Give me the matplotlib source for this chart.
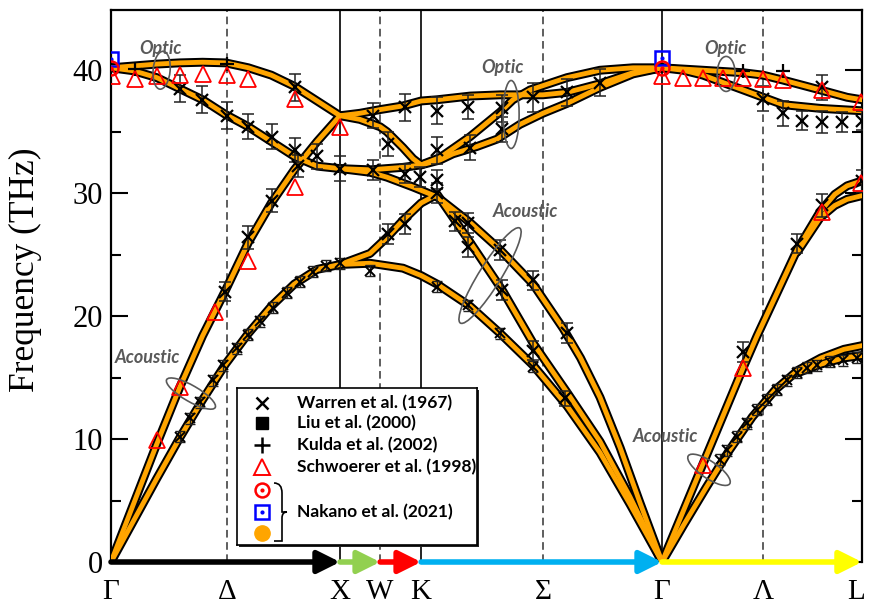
import numpy as np
import matplotlib
matplotlib.use("Agg")
import matplotlib.pyplot as plt
import matplotlib.transforms as mtransforms
from matplotlib.patches import Ellipse, Rectangle, PathPatch
from matplotlib.path import Path

# path coordinate along G-X-W-K-G-L (G-X = 1)
sym_pos = [0.0, 0.507, 1.0, 1.175, 1.354, 1.886, 2.406, 2.847, 3.279]
sym_labels = ['Γ', 'Δ', 'X', 'W', 'K', 'Σ', 'Γ', 'Λ', 'L']
solid_pos = [1.0, 1.354, 2.406]
dashed_pos = [0.507, 1.175, 1.886, 2.847]

# calculated dispersion branches, (q, THz)
gx_lo = [(0, 40.2), (0.1, 40.35), (0.2, 40.5), (0.3, 40.6), (0.4, 40.65), (0.5, 40.6),
         (0.6, 40.2), (0.7, 39.6), (0.8, 38.7), (0.9, 37.5), (1.0, 36.3)]
gx_to = [(0, 40.2), (0.1, 39.95), (0.2, 39.4), (0.3, 38.5), (0.4, 37.6), (0.5, 36.4),
         (0.6, 35.4), (0.7, 34.2), (0.8, 33.0), (0.9, 32.2), (1.0, 32.0)]
gx_la = [(0, 0), (0.1, 4.8), (0.2, 9.6), (0.3, 14.2), (0.4, 18.4), (0.5, 22.1),
         (0.6, 26.0), (0.7, 29.2), (0.8, 31.9), (0.9, 34.2), (1.0, 36.3)]
gx_ta = [(0, 0), (0.1, 3.4), (0.2, 6.8), (0.3, 10.1), (0.4, 13.2), (0.5, 16.1),
         (0.6, 18.6), (0.7, 20.8), (0.8, 22.6), (0.9, 23.8), (1.0, 24.2)]

xk_top = [(1.0, 36.3), (1.087, 36.5), (1.175, 36.8), (1.275, 37.1), (1.354, 37.5),
          (1.424, 37.6), (1.568, 37.9), (1.699, 38.0), (1.886, 38.0), (1.991, 38.2),
          (2.135, 38.9), (2.279, 39.8), (2.406, 40.2)]
xk_steep = [(1.0, 36.3), (1.087, 36.0), (1.175, 35.4), (1.205, 35.0), (1.275, 33.7),
            (1.319, 32.8), (1.354, 32.3), (1.437, 32.9), (1.568, 34.6), (1.699, 36.6),
            (1.755, 37.6), (1.830, 38.4), (1.991, 39.4), (2.135, 40.0), (2.279, 40.2),
            (2.406, 40.2)]
xk_to = [(1.0, 32.0), (1.131, 31.9), (1.275, 32.1), (1.354, 32.3), (1.437, 32.7),
         (1.493, 33.2), (1.598, 33.8), (1.686, 34.4), (1.786, 35.6), (1.886, 36.5),
         (1.991, 37.3), (2.135, 38.6), (2.279, 39.7), (2.406, 40.2)]
xk_la = [(1.0, 32.0), (1.131, 31.7), (1.205, 31.3), (1.319, 30.5), (1.424, 29.7),
         (1.568, 27.6), (1.699, 25.4), (1.843, 22.6), (1.974, 19.0), (2.05, 16.6),
         (2.135, 13.4), (2.223, 9.3), (2.310, 4.8), (2.406, 0)]
xk_ta1 = [(1.0, 24.2), (1.131, 25.1), (1.205, 26.4), (1.275, 27.8), (1.354, 29.2),
          (1.424, 29.9), (1.568, 26.0), (1.712, 22.0), (1.843, 17.8), (1.991, 13.8),
          (2.135, 9.8), (2.266, 5.3), (2.406, 0)]
xk_ta2 = [(1.0, 24.2), (1.131, 24.3), (1.275, 23.9), (1.354, 23.3), (1.424, 22.6),
          (1.568, 20.8), (1.699, 18.6), (1.843, 16.0), (1.991, 12.7), (2.135, 8.9),
          (2.266, 4.7), (2.406, 0)]

gl_o1 = [(2.406, 40.2), (2.585, 40.0), (2.760, 39.8), (2.847, 39.6), (2.934, 39.2),
         (3.096, 38.4), (3.214, 37.8), (3.279, 37.6)]
gl_o2 = [(2.406, 40.2), (2.498, 40.0), (2.585, 39.6), (2.672, 39.0), (2.760, 38.4),
         (2.847, 37.8), (2.934, 37.2), (3.096, 36.9), (3.279, 36.7)]
gl_la = [(2.406, 0), (2.585, 8.0), (2.760, 15.8), (2.821, 18.4), (2.996, 25.4),
         (3.096, 28.5), (3.16, 29.9), (3.214, 30.6), (3.279, 31.0)]
gl_la2 = [(2.996, 25.2), (3.096, 28.0), (3.16, 29.0), (3.214, 29.5), (3.279, 29.8)]
gl_ta = [(2.406, 0), (2.5, 3.0), (2.6, 6.1), (2.7, 9.1), (2.8, 11.8), (2.9, 14.0),
         (3.0, 15.6), (3.1, 16.6), (3.2, 17.3), (3.279, 17.6)]
gl_ta2 = [(3.0, 15.4), (3.1, 16.1), (3.2, 16.6), (3.279, 16.8)]

branches = [gx_lo, gx_to, gx_la, gx_ta, xk_top, xk_steep, xk_to, xk_la, xk_ta1,
            xk_ta2, gl_o1, gl_o2, gl_la, gl_la2, gl_ta, gl_ta2]

# Warren et al. (1967): (q, THz, error)
warren = [(0.301, 38.5, 1.1), (0.397, 37.6, 1.1), (0.507, 36.3, 1.1), (0.598, 35.4, 1.0),
          (0.703, 34.6, 1.0), (0.803, 33.5, 1.0), (0.900, 33.0, 1.0), (0.803, 38.6, 1.1),
          (1.0, 32.0, 1.0),
          (0.498, 22.0, 0.8), (0.598, 26.4, 0.9), (0.703, 29.4, 0.9), (0.817, 32.2, 0.9),
          (1.144, 36.3, 1.0), (1.144, 31.9, 0.8), (1.210, 34.0, 1.0), (1.210, 26.7, 0.8),
          (1.284, 37.0, 1.1), (1.284, 31.6, 0.8), (1.284, 27.5, 0.8), (1.349, 31.3, 0.8),
          (1.424, 36.7, 1.1), (1.424, 33.5, 1.1), (1.424, 31.1, 0.8), (1.424, 30.0, 0.8),
          (1.502, 27.7, 0.8), (1.559, 37.0, 1.0), (1.568, 33.7, 1.0), (1.559, 27.6, 0.8),
          (1.559, 25.6, 0.8), (1.707, 36.9, 1.1), (1.707, 35.2, 1.0), (1.699, 25.4, 0.8),
          (1.707, 22.1, 0.8), (1.843, 37.8, 1.2), (1.843, 22.9, 0.8), (1.843, 17.2, 0.8),
          (1.991, 38.2, 1.1), (1.991, 18.6, 0.8), (1.982, 13.3, 0.6), (2.135, 39.0, 1.1),
          (2.847, 37.7, 1.0), (2.934, 36.5, 1.0), (3.017, 35.9, 0.8), (3.105, 35.8, 0.9),
          (3.192, 35.8, 0.8), (3.279, 35.9, 0.8), (3.105, 38.6, 1.0),
          (2.760, 17.1, 0.8), (2.996, 25.9, 0.8), (3.105, 29.0, 0.9), (3.279, 31.0, 0.9)]
warren_ta = [(0.301, 10.2), (0.345, 11.7), (0.389, 13.0), (0.445, 14.8), (0.489, 16.0),
             (0.550, 17.4), (0.598, 18.5), (0.651, 19.6), (0.707, 20.7), (0.769, 21.9),
             (0.825, 22.8), (0.882, 23.6), (0.939, 24.1), (1.0, 24.3),
             (1.131, 23.7), (1.424, 22.4), (1.559, 20.9), (1.699, 18.6), (1.843, 15.9),
             (2.659, 8.3), (2.690, 9.1), (2.734, 10.2), (2.777, 11.3), (2.821, 12.4),
             (2.865, 13.2), (2.908, 14.0), (2.952, 14.8), (2.996, 15.4), (3.039, 15.8),
             (3.083, 16.0), (3.140, 16.3), (3.197, 16.4), (3.258, 16.6)]
kulda = [(0.105, 40.1), (0.507, 40.5), (2.760, 39.9), (2.934, 39.9)]
schwoerer = [(0.004, 39.5), (0.105, 39.3), (0.201, 39.5), (0.301, 39.6), (0.402, 39.7),
             (0.507, 39.6), (0.598, 39.3), (0.803, 37.7), (1.0, 35.4),
             (0.201, 9.9), (0.301, 14.2), (0.454, 20.3), (0.598, 24.5), (0.803, 30.5),
             (2.406, 39.5), (2.498, 39.4), (2.585, 39.4), (2.672, 39.4), (2.760, 39.4),
             (2.847, 39.3), (2.934, 39.2), (3.105, 38.4), (3.275, 37.4),
             (2.585, 7.9), (2.760, 15.8), (3.105, 28.5), (3.275, 30.8)]
nakano_circle = [(0.0, 40.2), (2.406, 40.2)]
nakano_square = [(0.0, 40.9), (2.406, 41.0)]

legend_labels = ['Warren et al. (1967)', 'Liu et al. (2000)', 'Kulda et al. (2002)',
                 'Schwoerer et al. (1998)', 'Nakano et al. (2021)']

serif = 'Liberation Serif'
note_font = dict(family='Lato', weight='bold', style='italic', size=13, color='#595959')

fig = plt.figure(figsize=(8.69, 6.08), dpi=100)
ax = fig.add_axes([111 / 869, 1 - 562 / 608, 751 / 869, 552 / 608])
ax.set_xlim(0, 3.279)
ax.set_ylim(0, 44.9)

for x in solid_pos:
    ax.axvline(x, color='black', lw=1.2, zorder=1)
for x in dashed_pos:
    ax.axvline(x, color='#333333', lw=1.1, ls=(0, (5, 3)), zorder=1)

# dispersion curves: black casing first, then the orange core
for br in branches:
    q, f = np.array(br).T
    ax.plot(q, f, color='black', lw=6.4, solid_capstyle='round',
            solid_joinstyle='round', zorder=3)
for br in branches:
    q, f = np.array(br).T
    ax.plot(q, f, color='#ffa500', lw=3.5, solid_capstyle='round',
            solid_joinstyle='round', zorder=4)

q, f, e = np.array(warren).T
ax.errorbar(q, f, yerr=e, fmt='none', ecolor='#222222', elinewidth=1.1,
            capsize=4.5, capthick=1.1, zorder=5)
ax.plot(q, f, 'x', color='black', ms=9, mew=1.6, zorder=6)
q, f = np.array(warren_ta).T
ax.errorbar(q, f, yerr=0.45, fmt='none', ecolor='#222222', elinewidth=1.0,
            capsize=3.5, capthick=1.0, zorder=5)
ax.plot(q, f, 'x', color='black', ms=7, mew=1.4, zorder=6)
q, f = np.array(kulda).T
ax.plot(q, f, '+', color='black', ms=10, mew=1.6, zorder=6)
q, f = np.array(schwoerer).T
ax.plot(q, f, '^', mfc='none', mec='#ff0000', ms=11, mew=1.3, zorder=7)
q, f = np.array(nakano_square).T
ax.plot(q, f, 's', mfc='none', mec='#0000ff', ms=10, mew=1.8, zorder=8)
ax.plot(q, f, '.', color='#0000ff', ms=4, zorder=8)
q, f = np.array(nakano_circle).T
ax.plot(q, f, 'o', mfc='none', mec='#ff0000', ms=10, mew=1.8, zorder=8)
ax.plot(q, f, '.', color='#ff0000', ms=4, zorder=8)


def pixel_ellipse(q0, f0, w, h, angle):
    # ellipse sized in pixels, centred on a data point
    tr = mtransforms.Affine2D() + mtransforms.ScaledTranslation(q0, f0, ax.transData)
    ax.add_patch(Ellipse((0, 0), w, h, angle=angle, transform=tr, fill=False,
                         ec='#595959', lw=1.2, zorder=9, clip_on=False))


pixel_ellipse(0.221, 40.0, 17, 38, -5)
pixel_ellipse(0.349, 13.7, 56, 16, -30)
pixel_ellipse(1.747, 36.4, 16, 68, 0)
pixel_ellipse(1.655, 23.3, 112, 22, 58)
pixel_ellipse(2.686, 39.7, 18, 35, 0)
pixel_ellipse(2.611, 7.5, 50, 17, -34)

ax.text(0.218, 41.8, 'Optic', ha='center', va='center', zorder=9, **note_font)
ax.text(0.157, 16.6, 'Acoustic', ha='center', va='center', zorder=9, **note_font)
ax.text(1.707, 40.2, 'Optic', ha='center', va='center', zorder=9, **note_font)
ax.text(1.808, 28.5, 'Acoustic', ha='center', va='center', zorder=9, **note_font)
ax.text(2.681, 41.8, 'Optic', ha='center', va='center', zorder=9, **note_font)
ax.text(2.419, 10.2, 'Acoustic', ha='center', va='center', zorder=9, **note_font)

# coloured path arrows along the bottom
arrow_cols = ['black', '#92d050', '#ff0000', '#00b0f0', '#ffff00']
arrow_ends = [0.0, 1.0, 1.175, 1.354, 2.406, 3.279]
for i, c in enumerate(arrow_cols):
    ax.annotate('', xy=(arrow_ends[i + 1], 0), xytext=(arrow_ends[i], 0),
                arrowprops=dict(arrowstyle='-|>,head_length=0.9,head_width=0.45',
                                lw=4, color=c, shrinkA=0, shrinkB=0,
                                mutation_scale=15),
                annotation_clip=False, zorder=10)

ax.spines['bottom'].set_visible(False)
for s in ['left', 'right', 'top']:
    ax.spines[s].set_linewidth(1.6)

ax.set_xticks(sym_pos)
ax.set_xticklabels(sym_labels, fontfamily=serif, fontsize=21)
ax.tick_params(axis='x', length=0, pad=12)
# keep the last label inside the figure
last = ax.get_xticklabels()[-1]
last.set_transform(last.get_transform()
                   + mtransforms.ScaledTranslation(-6 / 100, 0, fig.dpi_scale_trans))
ax.set_yticks([0, 10, 20, 30, 40])
ax.set_yticks([5, 15, 25, 35], minor=True)
ax.set_yticklabels(['0', '10', '20', '30', '40'], fontfamily=serif, fontsize=22)
ax.tick_params(axis='y', which='both', direction='in', left=True, right=True,
               width=1.5, pad=6)
ax.tick_params(axis='y', which='major', length=12)
ax.tick_params(axis='y', which='minor', length=7)
ax.set_ylabel('Frequency (THz)', fontfamily=serif, fontsize=25.5)
ax.yaxis.set_label_coords(-0.092, 0.53)

# legend box
lx, ly, lw_, lh = 237 / 869, 1 - 545 / 608, 240 / 869, 157 / 608
fig.add_artist(Rectangle((lx + 2 / 869, ly - 2 / 608), lw_, lh, transform=fig.transFigure,
                         fc='#222222', ec='none', zorder=1))
lax = fig.add_axes([lx, ly, lw_, lh])
lax.set_zorder(5)
lax.set_xlim(0, 240)
lax.set_ylim(157, 0)
lax.set_xticks([])
lax.set_yticks([])
for s in lax.spines.values():
    s.set_linewidth(1.2)

rows = [15, 35, 57, 79, 102, 124, 145]
lax.plot(25, rows[0], 'x', color='black', ms=9, mew=1.8)
lax.plot(25, rows[1], 's', color='black', ms=9)
lax.plot(25, rows[2], '+', color='black', ms=11, mew=1.8)
lax.plot(25, rows[3], '^', mfc='none', mec='#ff0000', ms=11, mew=1.4)
lax.plot(25, rows[4], 'o', mfc='none', mec='#ff0000', ms=10, mew=1.8)
lax.plot(25, rows[4], '.', color='#ff0000', ms=4)
lax.plot(25, rows[5], 's', mfc='none', mec='#0000ff', ms=10, mew=1.8)
lax.plot(25, rows[5], '.', color='#0000ff', ms=4)
lax.plot(25, rows[6], 'o', color='#ffa500', ms=11)
for lab, y in zip(legend_labels, rows[:4] + [rows[5]]):
    lax.text(60, y, lab, fontfamily='Lato', fontweight='bold', fontsize=12.5,
             va='center', ha='left')

brace = Path([(37, 95), (45, 95), (45, 105), (45, 114), (45, 118), (45, 124), (50, 124),
              (45, 124), (45, 130), (45, 134), (45, 143), (45, 153), (37, 153)],
             [Path.MOVETO, Path.CURVE3, Path.CURVE3, Path.LINETO, Path.CURVE3, Path.CURVE3,
              Path.LINETO, Path.CURVE3, Path.CURVE3, Path.LINETO, Path.CURVE3, Path.CURVE3,
              Path.LINETO])
lax.add_patch(PathPatch(brace, fill=False, lw=1.2, ec='black'))

fig.savefig('out.png', dpi=100)
